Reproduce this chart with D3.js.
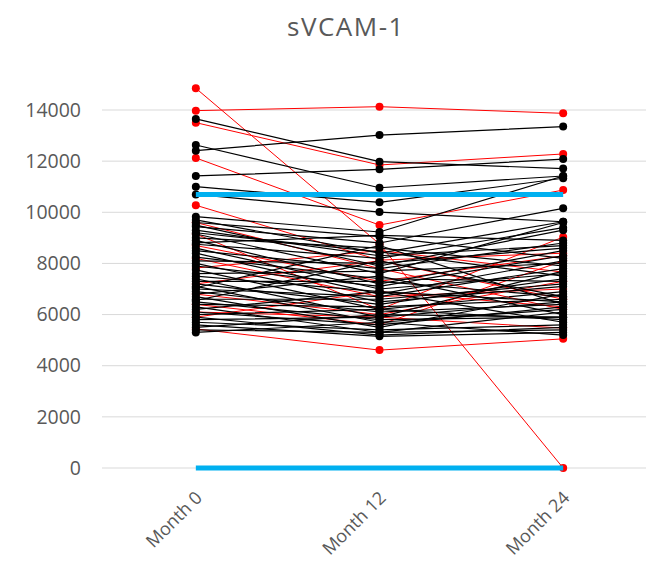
<!DOCTYPE html>
<html lang="en">
<head>
  <meta charset="UTF-8">
  <title>sVCAM-1</title>
  <style>
    body { margin: 0; background: #fff; font-family: "Open Sans", "Noto Sans", sans-serif; }
    #chart { width: 646px; height: 563px; }
  </style>
  <script src="https://d3js.org/d3.v7.min.js"></script>
</head>
<body>
  <div id="chart"></div>
  <script>
  const categories = ['Month 0', 'Month 12', 'Month 24'];
  const yTicks = [0, 2000, 4000, 6000, 8000, 10000, 12000, 14000];

  // one row per subject: [Month 0, Month 12, Month 24]
  const blackSeries = [
    [13650, 11980, 11710], [12410, 13020, 13350], [12630, 10960, 11420],
    [11420, 11680, 12080], [11000, 10390, 11330], [10700, 10010, 9630],
    [9830, 9230, 11420], [9700, 8400, 9630], [9600, 9050, 8200],
    [9500, 7900, 9300], [9440, 8800, 10155], [9300, 8300, 8700],
    [9150, 7600, 9600], [9000, 8600, 7900], [8900, 7200, 8500],
    [8750, 8200, 9400], [8600, 7000, 7600], [8500, 7800, 8800],
    [8400, 6800, 8100], [8250, 7400, 7300], [8100, 8000, 8600],
    [8000, 6500, 7100], [7900, 7100, 8300], [7750, 6200, 6900],
    [7600, 7700, 8000], [7500, 6900, 6500], [7400, 5900, 7700],
    [7300, 7300, 6700], [7200, 6400, 7400], [7100, 5700, 6200],
    [7000, 6700, 7800], [6900, 6100, 6400], [6800, 7500, 6000],
    [6700, 5500, 6800], [6600, 6600, 7200], [6500, 5800, 5900],
    [6400, 6300, 6600], [6300, 5300, 6100], [6200, 6900, 5700],
    [6100, 5600, 6300], [6000, 6200, 5800], [5900, 5200, 5500],
    [5800, 5900, 6500], [5700, 5400, 5600], [5600, 5150, 5300],
    [5500, 6000, 5900], [5400, 5300, 5400], [5300, 5700, 5200],
    [6550, 8100, 6700], [7050, 8700, 6400], [8800, 9100, 8900],
    [9200, 8450, 7500]
  ];
  const redSeries = [
    [14850, 8760, 0], [13975, 14130, 13870], [13505, 11850, 12280],
    [12125, 9500, 10870], [10275, 8130, 8400], [9150, 6200, 9030],
    [7820, 8500, 7660], [5440, 4610, 5050], [6100, 5900, 5470],
    [8700, 7300, 8300], [6800, 6000, 7300], [9600, 7800, 6200],
    [7200, 8100, 6600], [6400, 5600, 8100], [8200, 6700, 7000],
    [5900, 6900, 6300]
  ];
  const blueSeries = [[10700, 10700, 10700], [0, 0, 0]];

  const W = 646, H = 563;
  const svg = d3.select('#chart').append('svg').attr('width', W).attr('height', H);

  const x = d3.scalePoint().domain(categories).range([104, 655]).padding(0.5);
  const y = d3.scaleLinear().domain([0, 14000]).range([468, 110]);

  // title
  svg.append('text')
    .attr('x', 346).attr('y', 36)
    .attr('text-anchor', 'middle')
    .attr('font-size', 26).attr('letter-spacing', 1.5).attr('fill', '#595959')
    .text('sVCAM-1');

  // gridlines
  svg.append('g').selectAll('line').data(yTicks).join('line')
    .attr('x1', 102).attr('x2', W)
    .attr('y1', d => y(d)).attr('y2', d => y(d))
    .attr('stroke', '#d9d9d9').attr('stroke-width', 1);

  // y axis labels
  const yAxis = svg.append('g')
    .attr('transform', 'translate(81,0)')
    .call(d3.axisLeft(y).tickValues(yTicks).tickSize(0).tickPadding(0).tickFormat(d3.format('d')));
  yAxis.select('.domain').remove();
  yAxis.selectAll('text').attr('font-size', 19.5).attr('fill', '#595959')
    .attr('font-family', '"Open Sans", sans-serif');

  // x axis labels, rotated
  const xAxis = svg.append('g')
    .attr('transform', 'translate(0,468)')
    .call(d3.axisBottom(x).tickSize(0).tickPadding(0));
  xAxis.select('.domain').remove();
  xAxis.selectAll('text')
    .attr('font-size', 18).attr('fill', '#595959')
    .attr('font-family', '"Open Sans", sans-serif')
    .attr('text-anchor', 'end')
    .attr('dy', 0)
    .attr('transform', 'translate(7,31) rotate(-45)');

  const line = d3.line().x((d, i) => x(categories[i])).y(d => y(d));

  function drawSeries(rows, color, width, r) {
    const g = svg.append('g');
    rows.forEach(row => {
      g.append('path').attr('d', line(row))
        .attr('fill', 'none').attr('stroke', color).attr('stroke-width', width);
      if (r > 0) {
        g.selectAll(null).data(row).join('circle')
          .attr('cx', (d, i) => x(categories[i])).attr('cy', d => y(d))
          .attr('r', r).attr('fill', color);
      }
    });
  }

  drawSeries(redSeries, '#ff0000', 1, 4);
  drawSeries(blackSeries, '#000', 1.2, 4);
  drawSeries(blueSeries, '#00b0f0', 5, 0);
  </script>
</body>
</html>
